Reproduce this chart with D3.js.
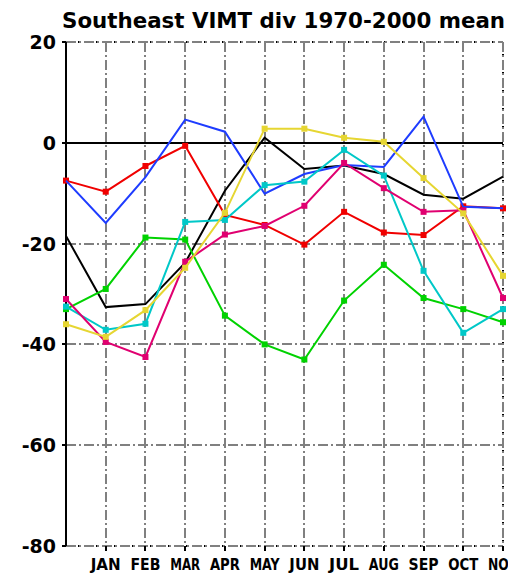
<!DOCTYPE html>
<html>
<head>
<meta charset="utf-8">
<script src="https://cdn.jsdelivr.net/npm/d3@7"></script>
<style>
body { margin: 0; background: #fff; }
svg { display: block; }
</style>
</head>
<body>
<div id="chart"></div>
<script>
var width = 508;
var height = 574;

// index 0 is the December before, then Jan..Nov
var months = ["", "JAN", "FEB", "MAR", "APR", "MAY", "JUN", "JUL", "AUG", "SEP", "OCT", "NOV"];
var yTicks = [20, 0, -20, -40, -60, -80];

var blackVals   = [-18.5, -32.6, -32.0, -23.8, -9.5, 1.0, -5.2, -4.5, -6.2, -10.3, -11.1, -6.7];
var redVals     = [-7.5, -9.7, -4.6, -0.6, -14.3, -16.3, -20.2, -13.7, -17.8, -18.3, -12.6, -13.0];
var greenVals   = [-33.0, -29.0, -18.8, -19.2, -34.3, -40.0, -43.0, -31.3, -24.2, -30.8, -33.0, -35.6];
var blueVals    = [-7.5, -15.9, -6.8, 4.6, 2.2, -10.1, -6.2, -4.4, -4.8, 5.2, -12.7, -13.0];
var cyanVals    = [-32.5, -37.1, -35.9, -15.7, -15.3, -8.4, -7.7, -1.4, -6.5, -25.4, -37.7, -33.0];
var magentaVals = [-31.0, -39.5, -42.5, -23.6, -18.2, -16.5, -12.5, -4.0, -9.0, -13.7, -13.4, -30.8];
var yellowVals  = [-36.0, -38.5, -33.2, -24.8, -13.9, 2.8, 2.8, 1.0, 0.2, -7.0, -14.0, -26.4];

var series = [
    {vals: blackVals, color: "#000000", marker: false},
    {vals: redVals, color: "#f00000", marker: true},
    {vals: greenVals, color: "#00d200", marker: true},
    {vals: blueVals, color: "#1e3cff", marker: false},
    {vals: cyanVals, color: "#00c8c8", marker: true},
    {vals: magentaVals, color: "#e00070", marker: true},
    {vals: yellowVals, color: "#e6d632", marker: true}
];

var plotL = 66, plotR = 503, plotT = 42, plotB = 546;

var x = d3.scaleLinear().domain([0, months.length - 1]).range([plotL, plotR]);
var y = d3.scaleLinear().domain([-80, 20]).range([plotB, plotT]);

var svg = d3.select("#chart").append("svg")
    .attr("width", width)
    .attr("height", height)
    .style("font-family", "DejaVu Sans")
    .style("font-weight", "bold");

// title
svg.append("text")
    .attr("x", 62)
    .attr("y", 28)
    .attr("textLength", 443)
    .attr("lengthAdjust", "spacingAndGlyphs")
    .style("font-size", "21px")
    .text("Southeast VIMT div 1970-2000 mean");

// frame, dotted on top, bottom and right
var frame = svg.append("g").attr("stroke", "#000").attr("stroke-width", 2)
    .attr("shape-rendering", "crispEdges").attr("stroke-dasharray", "3,3");
frame.append("line").attr("x1", plotL).attr("x2", plotR).attr("y1", plotT).attr("y2", plotT);
frame.append("line").attr("x1", plotL).attr("x2", plotR).attr("y1", plotB).attr("y2", plotB);
frame.append("line").attr("x1", plotR).attr("x2", plotR).attr("y1", plotT).attr("y2", plotB);

// grid
var grid = svg.append("g").attr("stroke", "#808080").attr("stroke-width", 2)
    .attr("shape-rendering", "crispEdges").attr("stroke-dasharray", "10,3,2,3");

grid.selectAll("line.h").data(yTicks.filter(function (d) { return d !== 0; }))
    .enter().append("line")
    .attr("x1", plotL).attr("x2", plotR)
    .attr("y1", function (d) { return y(d); })
    .attr("y2", function (d) { return y(d); });

grid.selectAll("line.v").data(d3.range(1, months.length))
    .enter().append("line")
    .attr("y1", plotT).attr("y2", plotB)
    .attr("x1", function (d) { return x(d); })
    .attr("x2", function (d) { return x(d); });

// left axis and zero line
svg.append("line").attr("x1", plotL).attr("x2", plotL).attr("y1", plotT).attr("y2", plotB)
    .attr("stroke", "#000").attr("stroke-width", 2).attr("shape-rendering", "crispEdges");
svg.append("line").attr("x1", plotL - 4).attr("x2", plotR).attr("y1", y(0)).attr("y2", y(0))
    .attr("stroke", "#000").attr("stroke-width", 2).attr("shape-rendering", "crispEdges");

// y ticks and labels
svg.selectAll("line.yt").data(yTicks).enter().append("line")
    .attr("x1", plotL - 4).attr("x2", plotL)
    .attr("y1", function (d) { return y(d); })
    .attr("y2", function (d) { return y(d); })
    .attr("stroke", "#000").attr("stroke-width", 2).attr("shape-rendering", "crispEdges");

svg.selectAll("text.yl").data(yTicks).enter().append("text")
    .attr("x", 56)
    .attr("y", function (d) { return y(d) + 7; })
    .attr("text-anchor", "end")
    .style("font-size", "19px")
    .text(function (d) { return d; });

// x ticks and labels
svg.selectAll("line.xt").data(d3.range(1, months.length)).enter().append("line")
    .attr("x1", function (d) { return x(d); })
    .attr("x2", function (d) { return x(d); })
    .attr("y1", plotB).attr("y2", plotB + 5)
    .attr("stroke", "#000").attr("stroke-width", 2).attr("shape-rendering", "crispEdges");

svg.selectAll("text.xl").data(d3.range(1, months.length)).enter().append("text")
    .attr("x", function (d) { return x(d); })
    .attr("y", 570)
    .attr("text-anchor", "middle")
    .style("font-size", "15px")
    .attr("textLength", 30)
    .attr("lengthAdjust", "spacingAndGlyphs")
    .text(function (d) { return months[d]; });

// data lines
var line = d3.line()
    .x(function (d, i) { return x(i); })
    .y(function (d) { return y(d); });

series.forEach(function (s) {
    svg.append("path")
        .attr("d", line(s.vals))
        .attr("fill", "none")
        .attr("stroke", s.color)
        .attr("stroke-width", 2);
    if (s.marker) {
        svg.selectAll(null).data(s.vals).enter().append("rect")
            .attr("x", function (d, i) { return x(i) - 3; })
            .attr("y", function (d) { return y(d) - 3; })
            .attr("width", 6)
            .attr("height", 6)
            .attr("fill", s.color);
    }
});
</script>
</body>
</html>
